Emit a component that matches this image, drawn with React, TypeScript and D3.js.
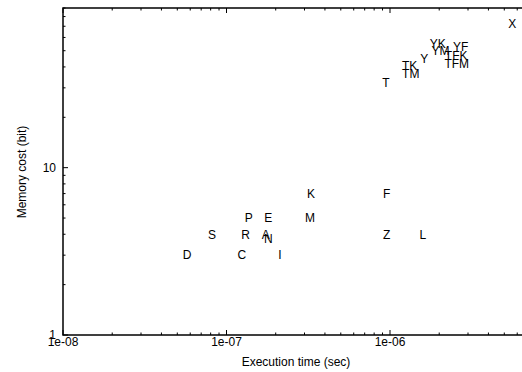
import * as d3 from 'd3';

// ─── Data ───────────────────────────────────────────────────

const labels = ['X', 'YK', 'YF', 'YM', 'TFK', 'TFM', 'Y', 'TK', 'TM', 'T', 'K', 'F', 'P', 'E', 'M', 'S', 'R', 'A', 'N', 'Z', 'L', 'D', 'C', 'I'];
const execTime = [5.6e-6, 1.96e-6, 2.71e-6, 2.04e-6, 2.54e-6, 2.56e-6, 1.62e-6, 1.32e-6, 1.34e-6, 9.45e-7, 3.29e-7, 9.55e-7, 1.37e-7, 1.8e-7, 3.24e-7, 8.15e-8, 1.31e-7, 1.74e-7, 1.8e-7, 9.55e-7, 1.59e-6, 5.75e-8, 1.24e-7, 2.12e-7];
const memCost = [72.3, 55.4, 52.9, 50, 46.5, 42.1, 45.1, 40.7, 36.7, 32.2, 7, 7, 5, 5, 5, 4, 4, 4, 3.75, 4, 4, 3, 3, 3];

const xTicks = [1e-8, 1e-7, 1e-6];
const xTickLabels = ['1e-08', '1e-07', '1e-06'];
const yTicks = [1, 10];
const yTickLabels = ['1', '10'];

// ─── Layout ─────────────────────────────────────────────────

const W = 522;
const H = 372;
const FONT = 'Liberation Sans, Arial, Helvetica, sans-serif';
const MAJOR = 5;
const MINOR = 2.5;

export default function App() {
  const x = d3.scaleLog().domain([1e-8, 1e-5]).range([63, 553.5]);
  const y = d3.scaleLog().domain([1, 90]).range([335, 8]);
  const [x0, x1] = x.range();
  const [yb, yt] = y.range();

  const majorX = new Set(xTicks.concat([1e-5]).map((v) => v.toExponential()));
  const majorY = new Set([1, 10, 100].map((v) => v.toExponential()));
  const xt = x.ticks().filter((v) => v >= 1e-8 && v <= 1e-5);
  const ytk = y.ticks().filter((v) => v >= 1 && v <= 90);

  const pts = labels.map((l, i) => ({ label: l, t: execTime[i], m: memCost[i] }));

  return (
    <svg width={W} height={H} style={{ position: 'absolute', left: 0, top: 0, background: '#fff' }} fontFamily={FONT}>
      <g stroke="#000" strokeWidth={1}>
        {xt.map((v, i) => {
          const len = majorX.has(v.toExponential()) ? MAJOR : MINOR;
          return (
            <g key={'x' + i}>
              <line x1={x(v)} x2={x(v)} y1={yb} y2={yb - len} />
              <line x1={x(v)} x2={x(v)} y1={yt} y2={yt + len} />
            </g>
          );
        })}
        {ytk.map((v, i) => {
          const len = majorY.has(v.toExponential()) ? MAJOR : MINOR;
          return <line key={'y' + i} x1={x0} x2={x0 + len} y1={y(v)} y2={y(v)} />;
        })}
      </g>
      <rect x={x0} y={yt} width={x1 - x0} height={yb - yt} fill="none" stroke="#000" strokeWidth={1.5} />

      <g fontSize={12} fill="#000">
        {xTicks.map((v, i) => (
          <text key={'xl' + i} x={x(v)} y={346} textAnchor="middle">{xTickLabels[i]}</text>
        ))}
        {yTicks.map((v, i) => (
          <text key={'yl' + i} x={56} y={y(v) - (i === 0 ? 0 : 0)} dy="0.35em" textAnchor="end">{yTickLabels[i]}</text>
        ))}
        <text x={296} y={366} textAnchor="middle">Execution time (sec)</text>
        <text transform={`translate(26,172) rotate(-90)`} textAnchor="middle">Memory cost (bit)</text>
      </g>

      <g fontSize={12} fill="#000">
        {pts.map((p, i) => (
          <text key={'p' + i} x={x(p.t)} y={y(p.m)} dy="0.36em" textAnchor="middle">{p.label}</text>
        ))}
      </g>
    </svg>
  );
}
